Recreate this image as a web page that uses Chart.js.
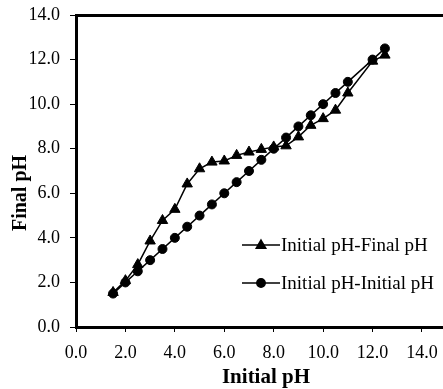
<!DOCTYPE html>
<html>
<head>
<meta charset="utf-8">
<script src="https://cdn.jsdelivr.net/npm/chart.js@4"></script>
<style>
  html, body { margin: 0; padding: 0; background: #fff; overflow: hidden; }
  #wrap { width: 443px; height: 389px; overflow: hidden; }
</style>
</head>
<body>
<div id="wrap"><canvas id="myCanvas" width="470" height="389"></canvas></div>
<script>
// values
const initialPH = [1.5, 2.0, 2.5, 3.0, 3.5, 4.0, 4.5, 5.0, 5.5, 6.0, 6.5, 7.0, 7.5, 8.0, 8.5, 9.0, 9.5, 10.0, 10.5, 11.0, 12.0, 12.5];
const finalPH = [1.55, 2.08, 2.8, 3.86, 4.78, 5.28, 6.42, 7.1, 7.4, 7.45, 7.7, 7.85, 7.97, 8.08, 8.13, 8.53, 9.05, 9.35, 9.73, 10.5, 11.93, 12.2];
const referencePH = [1.5, 2.0, 2.5, 3.0, 3.5, 4.0, 4.5, 5.0, 5.5, 6.0, 6.5, 7.0, 7.5, 8.0, 8.5, 9.0, 9.5, 10.0, 10.5, 11.0, 12.0, 12.5];
const xTickValues = [0, 2, 4, 6, 8, 10, 12, 14];
const seriesLabels = ["Initial pH-Final pH", "Initial pH-Initial pH"];
const xTitle = "Initial pH";
const yTitle = "Final pH";

const serif = "'Liberation Serif', 'Times New Roman', serif";
// plot runs past the right edge of the picture (it is cut off there)
const xMax = 15.66;

const toPoints = (xs, ys) => xs.map((x, i) => ({ x: x, y: ys[i] }));

// legend drawn as line + marker + text, like the original
const lineLegend = {
  id: "lineLegend",
  afterDraw(chart) {
    const ctx = chart.ctx;
    const rows = [245, 283];
    ctx.save();
    chart.data.datasets.forEach((ds, i) => {
      const y = rows[i];
      ctx.strokeStyle = "#000";
      ctx.lineWidth = 1.5;
      ctx.beginPath();
      ctx.moveTo(242, y);
      ctx.lineTo(280, y);
      ctx.stroke();
      Chart.helpers.drawPoint(ctx, {
        pointStyle: ds.pointStyle,
        radius: ds.pointStyle === "triangle" ? 5.5 : 4.2,
        borderWidth: 1
      }, 261, y + (ds.pointStyle === "triangle" ? 0.5 : 0));
      ctx.fillStyle = "#000";
      ctx.font = "19px " + serif;
      ctx.textAlign = "left";
      ctx.textBaseline = "middle";
      ctx.fillText(ds.label, 281, y + 1);
    });
    ctx.restore();
  }
};

const axisTitles = {
  id: "axisTitles",
  afterDraw(chart) {
    const ctx = chart.ctx;
    ctx.save();
    ctx.fillStyle = "#000";
    ctx.font = "bold 21px " + serif;
    ctx.textAlign = "center";
    ctx.textBaseline = "alphabetic";
    ctx.fillText(xTitle, 266, 383);
    ctx.translate(26, 193);
    ctx.rotate(-Math.PI / 2);
    ctx.font = "bold 20px " + serif;
    ctx.fillText(yTitle, 0, 0);
    ctx.restore();
  }
};

const canvas = document.getElementById("myCanvas");
const context = canvas.getContext("2d");

const chart = new Chart(context, {
  type: "scatter",
  data: {
    datasets: [
      {
        label: seriesLabels[0],
        data: toPoints(initialPH, finalPH),
        showLine: true,
        borderColor: "#000",
        backgroundColor: "#000",
        borderWidth: 1.5,
        pointStyle: "triangle",
        pointRadius: 6,
        pointBorderWidth: 1
      },
      {
        label: seriesLabels[1],
        data: toPoints(initialPH, referencePH),
        showLine: true,
        borderColor: "#000",
        backgroundColor: "#000",
        borderWidth: 1.5,
        pointStyle: "circle",
        pointRadius: 4.5,
        pointBorderWidth: 1
      }
    ]
  },
  options: {
    responsive: false,
    animation: false,
    devicePixelRatio: 1,
    layout: { padding: 0 },
    plugins: {
      legend: { display: false },
      tooltip: { enabled: false }
    },
    scales: {
      x: {
        type: "linear",
        position: "bottom",
        min: 0,
        max: xMax,
        afterBuildTicks: (scale) => {
          scale.ticks = xTickValues.map(v => ({ value: v }));
        },
        afterFit: (scale) => { scale.height = 62; },
        ticks: {
          color: "#000",
          font: { family: serif, size: 18 },
          padding: 10,
          maxRotation: 0,
          callback: (v) => Number(v).toFixed(1)
        },
        grid: { display: true, drawOnChartArea: false, drawTicks: true, tickLength: 5, color: "#000", lineWidth: 1 },
        border: { display: true, color: "#000", width: 3 }
      },
      xTop: {
        type: "linear",
        position: "top",
        min: 0,
        max: xMax,
        afterFit: (scale) => { scale.height = 15; },
        ticks: { display: false },
        grid: { display: false, drawTicks: false },
        border: { display: true, color: "#000", width: 3 }
      },
      y: {
        type: "linear",
        position: "left",
        min: 0,
        max: 14,
        afterFit: (scale) => {
          scale.width = 76;
          scale.paddingTop = 0;
          scale.paddingBottom = 0;
        },
        ticks: {
          stepSize: 2,
          color: "#000",
          font: { family: serif, size: 18 },
          padding: 10,
          callback: (v) => Number(v).toFixed(1)
        },
        grid: { display: true, drawOnChartArea: false, drawTicks: true, tickLength: 6, color: "#000", lineWidth: 1 },
        border: { display: true, color: "#000", width: 3 }
      }
    }
  },
  plugins: [lineLegend, axisTitles]
});
</script>
</body>
</html>
